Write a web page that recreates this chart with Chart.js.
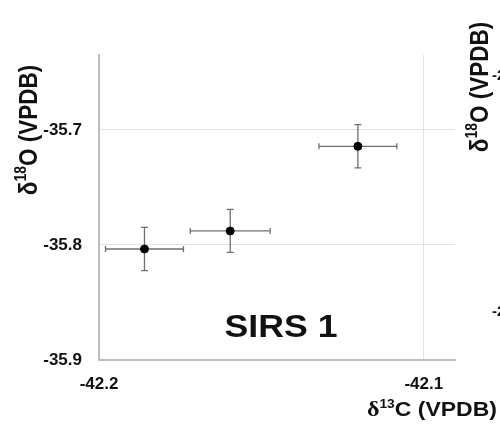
<!DOCTYPE html>
<html>
<head>
<meta charset="utf-8">
<script src="https://cdn.jsdelivr.net/npm/chart.js@4/dist/chart.umd.min.js"></script>
<style>
  html, body { margin: 0; padding: 0; background: #fff; }
  canvas { display: block; }
</style>
</head>
<body>
<canvas id="c" width="500" height="433"></canvas>
<script>
// ---- data ----
const xTicks = [-42.2, -42.1];            // δ13C tick labels
const yTicks = [-35.9, -35.8, -35.7];     // δ18O tick labels
const xRange = [-42.2, -42.0904];
const yRange = [-35.9, -35.6348];
const d13C = [-42.186, -42.1596, -42.1203];
const d18O = [-35.8035, -35.7878, -35.7142];
const errC = [0.012, 0.0123, 0.012];
const errO = [0.0188, 0.0187, 0.0188];
const sampleLabel = 'SIRS 1';
const xTitle = [['δ', 'serif'], ['13', 'sup'], ['C (VPDB)', 'main']];
const yTitle = [['δ', 'main'], ['18', 'sup'], ['O (VPDB)', 'main']];
const neighbourTicks = ['-25', '-25'];

const points = d13C.map((x, i) => ({ x: x, y: d18O[i], ex: errC[i], ey: errO[i] }));

const STRETCH = 1.15;

function runFont(kind, size) {
  if (kind === 'serif') return 'bold ' + (size + 1) + 'px "Liberation Serif"';
  if (kind === 'sup') return 'bold ' + Math.round(size * 0.6) + 'px "Liberation Sans"';
  return 'bold ' + size + 'px "Liberation Sans"';
}
function runsWidth(ctx, runs, size) {
  let w = 0;
  runs.forEach(r => { ctx.font = runFont(r[1], size); w += ctx.measureText(r[0]).width; });
  return w;
}
function drawRuns(ctx, runs, size, startX) {
  let x = startX;
  runs.forEach(r => {
    ctx.font = runFont(r[1], size);
    const dy = r[1] === 'sup' ? -size * 0.42 : 0;
    ctx.fillText(r[0], x, dy);
    x += ctx.measureText(r[0]).width;
  });
}

const errorBars = {
  id: 'errorBars',
  beforeDatasetsDraw(chart) {
    const ctx = chart.ctx, xs = chart.scales.x, ys = chart.scales.y;
    ctx.save();
    ctx.strokeStyle = '#6f6f6f';
    ctx.lineWidth = 1.3;
    points.forEach(p => {
      const px = xs.getPixelForValue(p.x), py = ys.getPixelForValue(p.y);
      const x0 = xs.getPixelForValue(p.x - p.ex), x1 = xs.getPixelForValue(p.x + p.ex);
      const y0 = ys.getPixelForValue(p.y - p.ey), y1 = ys.getPixelForValue(p.y + p.ey);
      ctx.beginPath();
      ctx.moveTo(x0, py); ctx.lineTo(x1, py);
      ctx.moveTo(x0, py - 3); ctx.lineTo(x0, py + 3);
      ctx.moveTo(x1, py - 3); ctx.lineTo(x1, py + 3);
      ctx.moveTo(px, y0); ctx.lineTo(px, y1);
      ctx.moveTo(px - 3.5, y0); ctx.lineTo(px + 3.5, y0);
      ctx.moveTo(px - 3.5, y1); ctx.lineTo(px + 3.5, y1);
      ctx.stroke();
    });
    ctx.restore();
  }
};

const labels = {
  id: 'labels',
  beforeDraw(chart) {
    const ctx = chart.ctx;
    ctx.save();
    ctx.fillStyle = '#fff';
    ctx.fillRect(0, 0, chart.width, chart.height);
    ctx.restore();
  },
  afterDraw(chart) {
    const ctx = chart.ctx;
    const ca = chart.chartArea;
    ctx.save();
    ctx.fillStyle = '#111';
    ctx.textBaseline = 'alphabetic';
    ctx.textAlign = 'left';

    // Sample label
    ctx.save();
    ctx.translate((ca.left + ca.right) / 2 + 4, 337);
    ctx.scale(STRETCH, 1);
    ctx.font = 'bold 31px "Liberation Sans"';
    ctx.textAlign = 'center';
    ctx.fillText(sampleLabel, 0, 0);
    ctx.restore();

    // x axis title (right aligned)
    ctx.save();
    const xs = 20;
    const wx = runsWidth(ctx, xTitle, xs);
    ctx.translate(497, 416);
    ctx.scale(STRETCH, 1);
    drawRuns(ctx, xTitle, xs, -wx);
    ctx.restore();

    // y axis title (rotated) for this panel and the neighbouring one
    [[37, 130], [488, 87]].forEach(pos => {
      ctx.save();
      const ysz = 22.5;
      const wy = runsWidth(ctx, yTitle, ysz);
      ctx.translate(pos[0], pos[1]);
      ctx.scale(STRETCH, 1);
      ctx.rotate(-Math.PI / 2);
      drawRuns(ctx, yTitle, ysz, -wy / 2);
      ctx.restore();
    });

    // cut-off tick labels of neighbouring panel
    ctx.font = 'bold 15px "Liberation Sans"';
    ctx.textBaseline = 'middle';
    ctx.fillText(neighbourTicks[0], 492, 76);
    ctx.fillText(neighbourTicks[1], 492, 312);
    ctx.restore();
  }
};

const tickFont = size => ({ family: '"Liberation Sans"', weight: 'bold', size: size });

new Chart(document.getElementById('c'), {
  type: 'scatter',
  data: {
    datasets: [{
      data: points,
      backgroundColor: '#000',
      borderColor: '#000',
      pointRadius: 4,
      pointHoverRadius: 4
    }]
  },
  options: {
    responsive: false,
    devicePixelRatio: 1,
    animation: false,
    events: [],
    layout: { padding: { top: 55, right: 45, left: 0, bottom: 0 } },
    plugins: { legend: { display: false }, tooltip: { enabled: false } },
    scales: {
      x: {
        type: 'linear',
        min: xRange[0], max: xRange[1],
        afterBuildTicks: s => { s.ticks = xTicks.map(v => ({ value: v })); },
        afterFit: s => { s.height = 73; },
        grid: { color: '#e3e3e3', lineWidth: 1, drawTicks: false },
        border: { color: '#bdbdbd', width: 2 },
        ticks: { font: tickFont(17), color: '#111', padding: 14, maxRotation: 0, autoSkip: false,
                 callback: v => Number(v).toFixed(1) }
      },
      y: {
        type: 'linear',
        min: yRange[0], max: yRange[1],
        afterBuildTicks: s => { s.ticks = yTicks.map(v => ({ value: v })); },
        afterFit: s => { s.width = 99; },
        grid: { color: '#e3e3e3', lineWidth: 1, drawTicks: false },
        border: { color: '#bdbdbd', width: 2 },
        ticks: { font: tickFont(17), color: '#111', padding: 17, autoSkip: false,
                 callback: v => Number(v).toFixed(1) }
      }
    }
  },
  plugins: [errorBars, labels]
});
</script>
</body>
</html>
